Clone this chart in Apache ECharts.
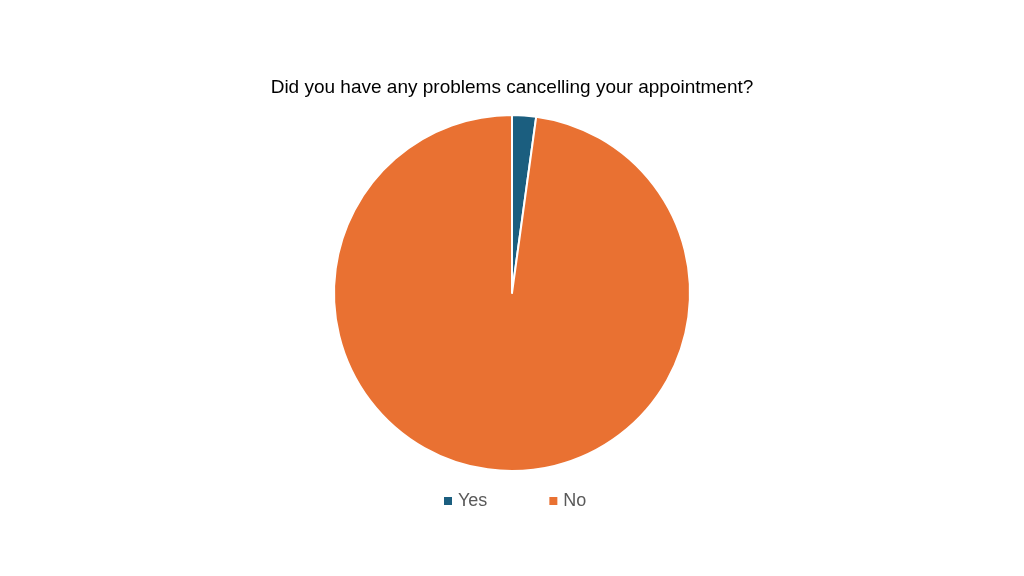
<!DOCTYPE html>
<html>
<head>
<meta charset="utf-8">
<script src="https://cdn.jsdelivr.net/npm/echarts@6/dist/echarts.min.js"></script>
<style>
  html, body { margin: 0; padding: 0; background: #fff; }
  #mychart { width: 1024px; height: 576px; }
</style>
</head>
<body>
<div id="mychart"></div>
<script>
  // data
  const categories = ['Yes', 'No']
  const values = [2, 90]
  const colors = ['#1b5e7f', '#e97132']

  const myChart = echarts.init(document.getElementById('mychart'))
  const option = {
      title: {
          text: 'Did you have any problems cancelling your appointment?',
          left: 'center',
          top: 73,
          textStyle: {
              fontFamily: 'Liberation Sans',
              fontSize: 19,
              fontWeight: 'normal',
              color: '#000'
          }
      },
      legend: {
          bottom: 61,
          left: 437,
          itemWidth: 10,
          itemHeight: 10,
          itemGap: 60,
          icon: 'rect',
          data: categories,
          textStyle: {
              fontFamily: 'Liberation Sans',
              fontSize: 18,
              color: '#595959'
          }
      },
      series: [{
          type: 'pie',
          center: [512, 293],
          radius: 178,
          startAngle: 90,
          clockwise: true,
          label: { show: false },
          labelLine: { show: false },
          itemStyle: {
              borderColor: '#fff',
              borderWidth: 2
          },
          data: categories.map((name, i) => ({
              name: name,
              value: values[i],
              itemStyle: { color: colors[i] }
          }))
      }]
  }
  myChart.setOption(option)
</script>
</body>
</html>
